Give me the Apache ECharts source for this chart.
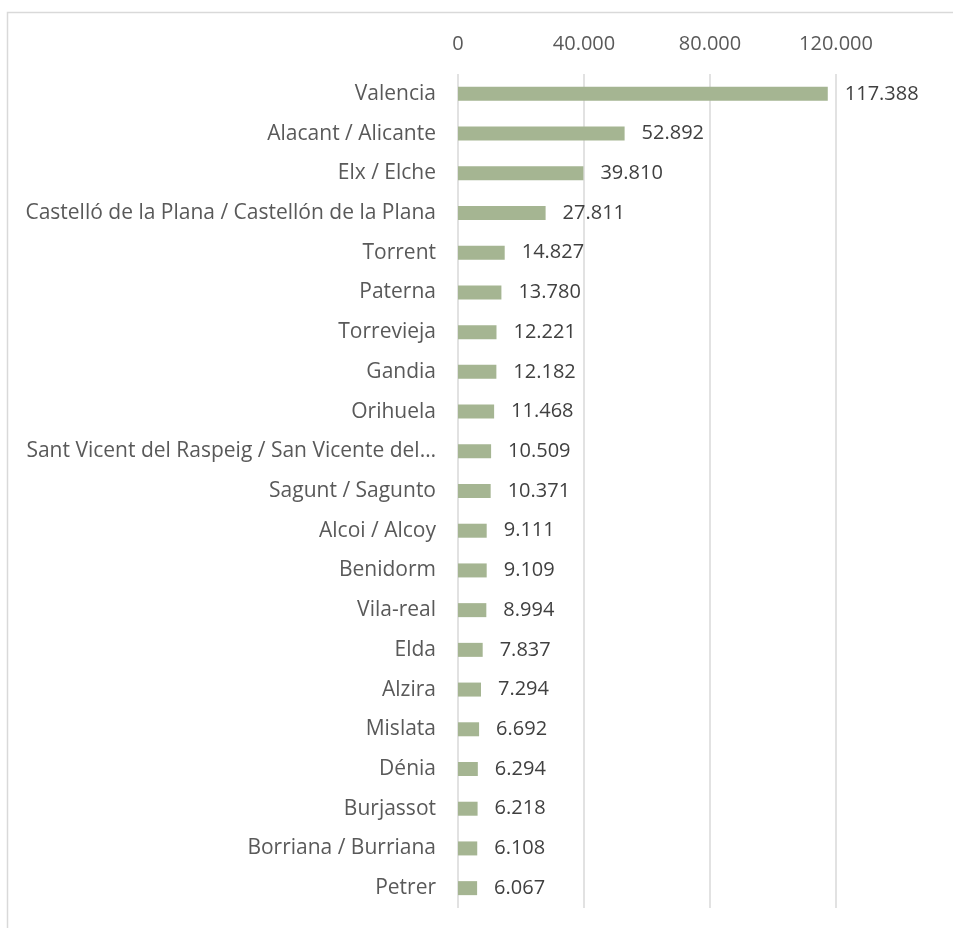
<!DOCTYPE html>
<html>
<head>
<meta charset="utf-8">
<script src="https://cdn.jsdelivr.net/npm/echarts@6/dist/echarts.min.js"></script>
<style>
  html, body { margin: 0; padding: 0; background: #fff; }
  #chart { width: 953px; height: 928px; }
</style>
</head>
<body>
<div id="chart"></div>
<script>
// Municipalities, ordered from largest to smallest
const municipios = [
  'Valencia',
  'Alacant / Alicante',
  'Elx / Elche',
  'Castelló de la Plana / Castellón de la Plana',
  'Torrent',
  'Paterna',
  'Torrevieja',
  'Gandia',
  'Orihuela',
  'Sant Vicent del Raspeig / San Vicente del…',
  'Sagunt / Sagunto',
  'Alcoi / Alcoy',
  'Benidorm',
  'Vila-real',
  'Elda',
  'Alzira',
  'Mislata',
  'Dénia',
  'Burjassot',
  'Borriana / Burriana',
  'Petrer'
];

const valores = [
  117388, 52892, 39810, 27811, 14827, 13780, 12221, 12182, 11468, 10509,
  10371, 9111, 9109, 8994, 7837, 7294, 6692, 6294, 6218, 6108, 6067
];

const ticksEje = [0, 40000, 80000, 120000];

// Spanish-style thousands separator: 117388 -> "117.388"
function fmt(v) {
  return String(Math.round(v)).replace(/\B(?=(\d{3})+(?!\d))/g, '.');
}

const chart = echarts.init(document.getElementById('chart'));
chart.setOption({
  animation: false,
  backgroundColor: '#ffffff',
  textStyle: { fontFamily: 'Open Sans' },
  graphic: [{
    type: 'rect',
    silent: true,
    shape: { x: 7.5, y: 12.5, width: 2000, height: 2000 },
    style: { fill: 'none', stroke: '#d9d9d9', lineWidth: 1.5 }
  }],
  grid: { left: 458, right: 117, top: 74, bottom: 20 },
  xAxis: {
    type: 'value',
    position: 'top',
    min: ticksEje[0],
    max: ticksEje[ticksEje.length - 1],
    interval: ticksEje[1] - ticksEje[0],
    axisLine: { show: false },
    axisTick: { show: false },
    axisLabel: {
      color: '#595959',
      fontSize: 20,
      margin: 20,
      formatter: fmt
    },
    splitLine: { lineStyle: { color: '#d9d9d9', width: 1.5 } }
  },
  yAxis: {
    type: 'category',
    inverse: true,
    data: municipios,
    axisLine: { show: false },
    axisTick: { show: false },
    axisLabel: { color: '#595959', fontSize: 21, margin: 22 }
  },
  series: [{
    type: 'bar',
    data: valores,
    barWidth: 14,
    itemStyle: { color: '#a5b592' },
    label: {
      show: true,
      position: 'right',
      distance: 17,
      color: '#404040',
      fontSize: 20,
      formatter: p => fmt(p.value)
    }
  }]
});
</script>
</body>
</html>
